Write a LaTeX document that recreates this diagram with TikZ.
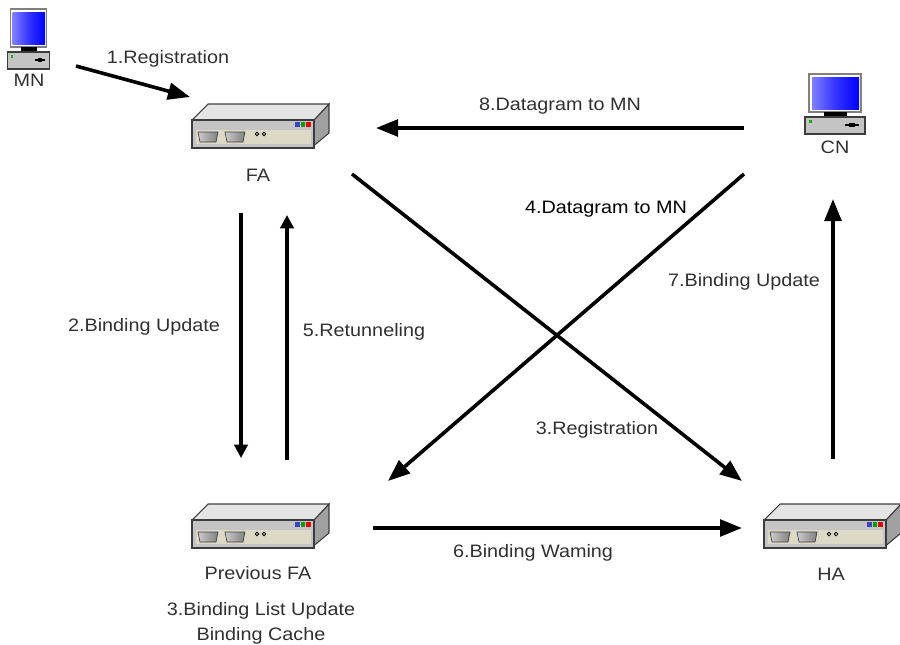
\documentclass[tikz,border=0pt]{standalone}
\usepackage{fontspec}
\usepackage{xcolor}
\setmainfont[FakeStretch=1.1]{Liberation Sans}
\usetikzlibrary{positioning,arrows.meta}
\definecolor{caseGray}{HTML}{C4C4C4}
\definecolor{topGray}{HTML}{E4E4E4}
\definecolor{sideGray}{HTML}{A0A0A0}
\definecolor{panelTan}{HTML}{DCDAC6}
\definecolor{edgeGray}{HTML}{3C3C3C}
\definecolor{textGray}{HTML}{303030}
\definecolor{screenBlue}{HTML}{0000FF}
\tikzstyle{routerBox} =[minimum width=105pt,minimum height=36pt,inner sep=0pt,outer sep=0pt]
\tikzstyle{pcBox}     =[minimum width=45pt,minimum height=46pt,inner sep=0pt,outer sep=0pt]
\tikzstyle{devLabel}  =[inner sep=0pt,text depth=0pt,text=textGray,font=\fontsize{13.5}{18.8}\selectfont,align=center]
\tikzstyle{flowLabel} =[devLabel]
\tikzstyle{flowHeavy} =[->,line width=2.7pt]
\tikzstyle{flowThin}  =[-{Triangle[length=10pt,width=10pt]},line width=2.3pt]
\tikzset{
  router/.pic={
    \draw[edgeGray,line width=.8pt,fill=sideGray] (-64,20) -- (51,20) -- (69,5) -- (69,-24) -- (54,-8) -- (54,20) -- cycle;
    \draw[edgeGray,line width=.8pt,fill=topGray] (-68,-8) -- (-52,-24) -- (69,-24) -- (54,-8) -- cycle;
    \draw[edgeGray,line width=.8pt,fill=caseGray] (-68,-8) rectangle (54,20);
    \fill[panelTan] (-64,2) rectangle (51,16);
    \foreach \x in {-62,-35}
      \draw[edgeGray,line width=.5pt,left color=white!60!gray,right color=gray]
        (\x,4) -- (\x+20,4) -- (\x+18,14) -- (\x+2,14) -- cycle;
    \foreach \x in {-3,4}
      \draw[black,line width=.6pt,fill=white] (\x,6) circle (1.8);
    \fill[blue!50!gray] (35,-6) rectangle (40,-1);
    \fill[green!60!black] (41,-6) rectangle (45,-1);
    \fill[red!85!black] (46,-6) rectangle (51,-1);
  },
  computer/.pic={
    \draw[gray,line width=1.3pt,fill=white] (-26,-30) rectangle (26,8);
    \shade[shading angle=135,left color=white!50!screenBlue,right color=screenBlue,middle color=screenBlue!80!white] (-23,-27) rectangle (24,5);
    \fill[black] (-11,8) rectangle (12,13);
    \draw[edgeGray,line width=.8pt,fill=caseGray] (-30,13) rectangle (30,30);
    \fill[green!70!black] (-26,16) rectangle (-23,19);
    \fill[black] (10,20) rectangle (24,22);
    \fill[black] (14,19) rectangle (20,23);
  }
}

\begin{document}
\begin{tikzpicture}[x=0.75pt,y=-0.75pt,>={Triangle[length=16.5pt,width=12.5pt]}]
      \useasboundingbox (0,0) rectangle (900,644);
      \node[routerBox] (fa) at (260,128) {};
      \node[routerBox] (pfa) [below = 300pt of fa.center,anchor=center] {};
      \node[routerBox] (ha) [right = 429pt of pfa.center,anchor=center] {};
      \node[pcBox] (cn) at (835,104) {};
      \node[pcBox] (mn) at (28.5,39) {};
      \foreach \name in {fa,pfa,ha}
        \pic at (\name) {router};
      \pic at (cn) {computer};
      \pic[xscale=0.69] at (mn) {computer};
      % device names
      \node[devLabel] (mnName) at (29,80) {MN};
      \node[devLabel] (faName) at (258,175) {FA};
      \node[devLabel] (cnName) at (835,147) {CN};
      \node[devLabel] (pfaName) at (258,573) {Previous FA};
      \node[devLabel] (haName) at (831,574) {HA};
      \node[devLabel] (pfaNote) at (261,621) {3.Binding List Update\\Binding Cache};
      % connectors
      \draw[flowHeavy] ([shift={(47.5,27)}]mn.center) -- ([shift={(-70,-31)}]fa.center);
      \draw[flowHeavy] ([shift={(-91,24)}]cn.center) -- ([shift={(116,0)}]fa.center);
      \draw[flowThin] ([shift={(-19,85)}]fa.center) -- ([shift={(-19,-70)}]pfa.center);
      \draw[flowThin] ([shift={(27,-68)}]pfa.center) -- ([shift={(27,87)}]fa.center);
      \draw[flowHeavy] ([shift={(92,46)}]fa.center) -- ([shift={(-90,-47)}]ha.center);
      \draw[flowHeavy] ([shift={(-91,70)}]cn.center) -- ([shift={(128,-47)}]pfa.center);
      \draw[flowHeavy] ([shift={(113,0)}]pfa.center) -- ([shift={(-90,0)}]ha.center);
      \draw[flowHeavy] ([shift={(1,-69)}]ha.center) -- ([shift={(-2,95)}]cn.center);
      % connector labels
      \node[flowLabel] (regOne) at (168,57) {1.Registration};
      \node[flowLabel] (bindTwo) at (144,325) {2.Binding Update};
      \node[flowLabel] (regThree) at (597,428) {3.Registration};
      \node[flowLabel,text=black] (dataFour) at (606,207) {4.Datagram to MN};
      \node[flowLabel] (retunFive) at (364,330) {5.Retunneling};
      \node[flowLabel] (warnSix) at (533,551) {6.Binding Waming};
      \node[flowLabel] (bindSeven) at (744,280) {7.Binding Update};
      \node[flowLabel] (dataEight) at (560,104) {8.Datagram to MN};
    \end{tikzpicture}
\end{document}
